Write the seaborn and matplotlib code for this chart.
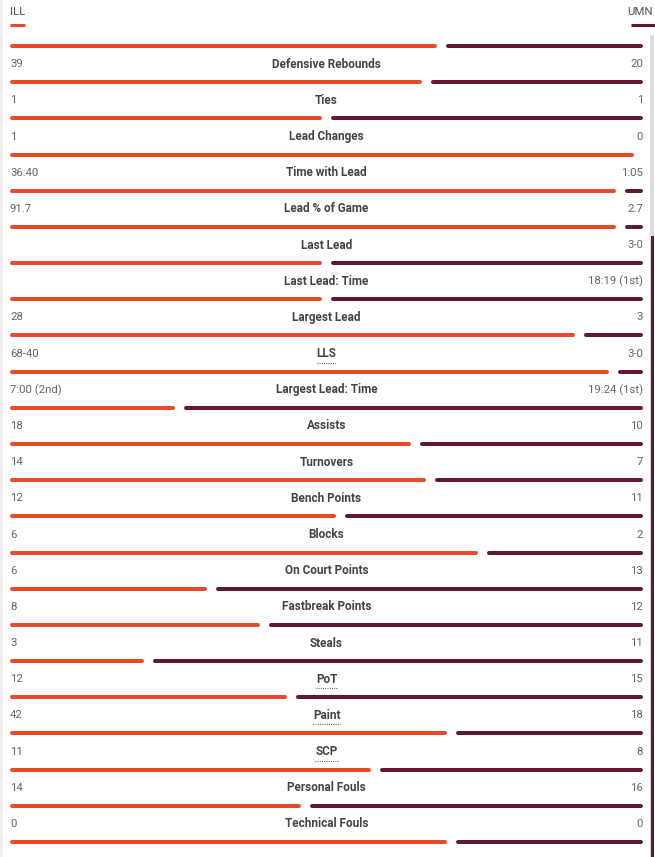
import numpy as np
import pandas as pd
import matplotlib
matplotlib.use("Agg")
import matplotlib.pyplot as plt
import seaborn as sns

# Style first, then fonts (set_theme resets font.family)
sns.set_theme(style="white")
plt.rcParams['font.family'] = ['Roboto', 'DejaVu Sans']

# --- DATA ---
stat_labels = ["", "Defensive Rebounds", "Ties", "Lead Changes", "Time with Lead",
               "Lead % of Game", "Last Lead", "Last Lead: Time", "Largest Lead", "LLS",
               "Largest Lead: Time", "Assists", "Turnovers", "Bench Points", "Blocks",
               "On Court Points", "Fastbreak Points", "Steals", "PoT", "Paint", "SCP",
               "Personal Fouls", "Technical Fouls"]
ill_values = ["", "39", "1", "1", "36:40", "91.7", "", "", "28", "68-40", "7:00 (2nd)",
              "18", "14", "12", "6", "6", "8", "3", "12", "42", "11", "14", "0"]
umn_values = ["", "20", "1", "0", "1:05", "2.7", "3-0", "18:19 (1st)", "3", "3-0",
              "19:24 (1st)", "10", "7", "11", "2", "13", "12", "11", "15", "18", "8", "16", "0"]
# ILL share of each bar
ill_share = [0.684, 0.660, 0.5, 1.0, 0.971, 0.971, 0.5, 0.5, 0.905, 0.960, 0.264,
             0.643, 0.667, 0.522, 0.750, 0.316, 0.400, 0.214, 0.444, 0.700, 0.579,
             0.467, 0.700]
dotted_labels = ["LLS", "PoT", "Paint", "SCP"]

ILL_ORANGE = "#E84A27"
UMN_MAROON = "#621832"

df = pd.DataFrame({"label": stat_labels, "ill": ill_values, "umn": umn_values,
                   "share": ill_share})

# --- LAYOUT (pixel space) ---
W, H = 655, 857
x_left, x_right = 10, 643
gap = 9
first_bar_y = 46
row_pitch = 36.18
label_offset = 18
bar_px = 4
lw = bar_px * 72 / 100

fig = plt.figure(figsize=(W / 100, H / 100), dpi=100)
ax = fig.add_axes([0, 0, 1, 1])
ax.set_xlim(0, W)
ax.set_ylim(H, 0)
ax.axis("off")

# left edge strip and scrollbar
ax.add_patch(plt.Rectangle((0, 0), 3, H, color="#eeeeee", lw=0))
ax.add_patch(plt.Rectangle((650, 35), 4, H - 35, color="#dddddd", lw=0))
ax.add_patch(plt.Rectangle((651, 236), 3, H - 236, color=UMN_MAROON, lw=0))

# header
ax.text(x_left, 12, "ILL", fontsize=8.2, color="#4b5064", va="center", ha="left")
ax.text(W - 2, 12, "UMN", fontsize=8.2, color="#4b5064", va="center", ha="right")
ax.plot([x_left, 25], [25, 25], color=ILL_ORANGE, lw=2.2, solid_capstyle="butt")
ax.plot([631, 655], [25, 25], color=UMN_MAROON, lw=2.2, solid_capstyle="butt")

span = (x_right - x_left) - gap
cap = bar_px / 2

fig.canvas.draw()
renderer = fig.canvas.get_renderer()

for i, row in df.iterrows():
    bar_y = first_bar_y + row_pitch * i
    split = x_left + row["share"] * span

    # orange (ILL) segment
    ax.plot([x_left + cap, split - cap], [bar_y, bar_y], color=ILL_ORANGE,
            lw=lw, solid_capstyle="round")
    # maroon (UMN) segment
    if row["share"] < 1.0:
        ax.plot([split + gap + cap, x_right - cap], [bar_y, bar_y], color=UMN_MAROON,
                lw=lw, solid_capstyle="round")

    if not row["label"]:
        continue
    label_y = bar_y - label_offset
    ax.text(x_left, label_y, row["ill"], fontsize=8.2, color="#666666",
            ha="left", va="center")
    ax.text(x_right, label_y, row["umn"], fontsize=8.2, color="#666666",
            ha="right", va="center")
    t = ax.text((x_left + x_right) / 2, label_y, row["label"], fontsize=8.5,
                fontweight="bold", color="#444444", ha="center", va="center")

    # dotted underline for abbreviations
    if row["label"] in dotted_labels:
        bb = t.get_window_extent(renderer=renderer)
        x0, x1 = bb.x0, bb.x1
        ax.plot([x0, x1], [label_y + 9, label_y + 9], color="#333333", lw=0.8,
                linestyle=(0, (0.7, 1.3)))

fig.savefig("out.png", dpi=100)
